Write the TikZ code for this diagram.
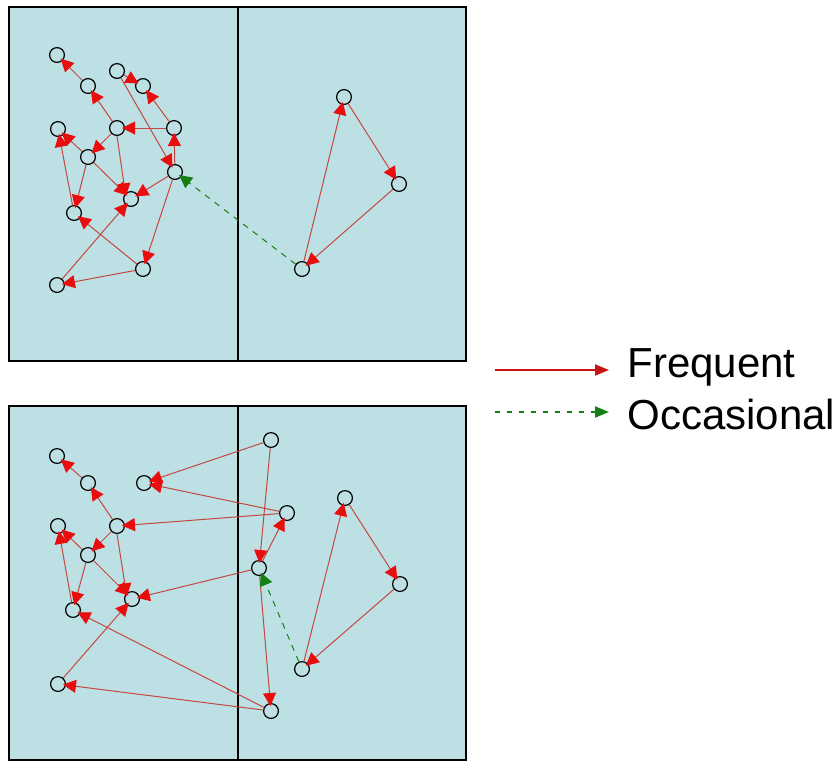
\documentclass[tikz,border=0pt]{standalone}
\usepackage{fontspec}
\setmainfont{Liberation Sans}
\usetikzlibrary{arrows.meta}
\definecolor{panelbg}{RGB}{189,224,228}
\definecolor{freqline}{RGB}{196,72,64}
\definecolor{freqhead}{RGB}{232,14,14}
\definecolor{occcol}{RGB}{20,128,20}
\definecolor{legred}{RGB}{200,20,20}
\begin{document}
\begin{tikzpicture}[x=0.5pt,y=-0.5pt,
  pt/.style={circle, draw=black, line width=0.6pt, minimum size=7.4pt, inner sep=0pt},
  freq/.style={draw=freqline, line width=0.5pt, shorten >=-1.5pt, -{Triangle[length=6.5pt,width=6.5pt,fill=freqhead,color=freqhead]}},
  occ/.style={draw=occcol, line width=0.5pt, shorten >=-1.5pt, dash pattern=on 3pt off 3pt, -{Triangle[length=6.5pt,width=6.5pt,fill=occcol,color=occcol]}},
  panel/.style={fill=panelbg, draw=black, line width=0.6pt},
  divider/.style={draw=black, line width=0.6pt},
  legfreq/.style={draw=legred, line width=1pt, -{Triangle[length=7pt,width=5.5pt,fill=legred,color=legred]}},
  legocc/.style={draw=occcol, line width=1pt, dash pattern=on 2.5pt off 3.5pt, -{Triangle[length=7pt,width=5.5pt,fill=occcol,color=occcol]}},
  legtext/.style={anchor=base west, inner sep=0pt, font=\fontsize{21}{25}\selectfont}
]
\useasboundingbox (0,0) rectangle (838,762);
% panels
\draw[panel] (9,7) rectangle (466,361);
\draw[divider] (238,7) -- (238,361);
\draw[panel] (9,406) rectangle (466,760);
\draw[divider] (238,406) -- (238,760);

% top panel nodes
\node[pt] (t1) at (57,55) {};
\node[pt] (t2) at (88,86) {};
\node[pt] (t3) at (117,71) {};
\node[pt] (t4) at (143,86) {};
\node[pt] (t5) at (58,129) {};
\node[pt] (t6) at (117,128) {};
\node[pt] (t7) at (174,128) {};
\node[pt] (t8) at (88,157) {};
\node[pt] (t9) at (175,172) {};
\node[pt] (t10) at (131,199) {};
\node[pt] (t11) at (74,213) {};
\node[pt] (t12) at (143,269) {};
\node[pt] (t13) at (57,285) {};
\node[pt] (tr1) at (344,97) {};
\node[pt] (tr2) at (399,184) {};
\node[pt] (tr3) at (302,269) {};

\draw[freq] (t2) -- (t1);
\draw[freq] (t6) -- (t2);
\draw[freq] (t3) -- (t4);
\draw[freq] (t7) -- (t4);
\draw[freq] (t7) -- (t6);
\draw[freq] (t9) -- (t7);
\draw[freq] (t6) -- (t8);
\draw[freq] (t8) -- (t5);
\draw[freq] (t11) -- (t5);
\draw[freq] (t8) -- (t11);
\draw[freq] (t8) -- (t10);
\draw[freq] (t6.south) -- (t10.north west);
\draw[freq] (t9) -- (t10);
\draw[freq] (t13) -- (t10);
\draw[freq] (t3) -- (t9);
\draw[freq] (t9) -- (t12);
\draw[freq] (t12) -- (t11);
\draw[freq] (t12) -- (t13);
\draw[freq] (tr3) -- (tr1);
\draw[freq] (tr1) -- (tr2);
\draw[freq] (tr2) -- (tr3);
\draw[occ] (tr3) -- (t9);

% bottom panel nodes
\node[pt] (b1) at (57,456) {};
\node[pt] (b2) at (88,483) {};
\node[pt] (b5) at (58,526) {};
\node[pt] (b6) at (117,526) {};
\node[pt] (b8) at (88,555) {};
\node[pt] (b10) at (132,599) {};
\node[pt] (b11) at (73,610) {};
\node[pt] (b13) at (58,684) {};
\node[pt] (c1) at (144,483) {};
\node[pt] (c2) at (271,440) {};
\node[pt] (c3) at (287,513) {};
\node[pt] (c4) at (259,568) {};
\node[pt] (c5) at (271,711) {};
\node[pt] (br1) at (345,498) {};
\node[pt] (br2) at (400,584) {};
\node[pt] (br3) at (302,669) {};

\draw[freq] (b2) -- (b1);
\draw[freq] (b6) -- (b2);
\draw[freq] (b6) -- (b8);
\draw[freq] (b8) -- (b5);
\draw[freq] (b11) -- (b5);
\draw[freq] (b8) -- (b11);
\draw[freq] (b8) -- (b10);
\draw[freq] (b6.south) -- (b10.north west);
\draw[freq] (b13) -- (b10);
\draw[freq] (c4) -- (b10);
\draw[freq] (c5) -- (b11);
\draw[freq] (c5) -- (b13);
\draw[freq] (c2) -- (c1);
\draw[freq] (c3) -- (c1);
\draw[freq] (c3) -- (b6);
\draw[freq] (c4) -- (c3);
\draw[freq] (c2) -- (c4);
\draw[freq] (c4) -- (c5);
\draw[freq] (br3) -- (br1);
\draw[freq] (br1) -- (br2);
\draw[freq] (br2) -- (br3);
\draw[occ] (br3) -- (c4);

% legend
\coordinate (fa) at (495,370);
\coordinate (fb) at (609,370);
\draw[legfreq] (fa) -- (fb);
\node[legtext] (ft) at (627,377) {Frequent};
\coordinate (oa) at (495,412);
\coordinate (ob) at (609,412);
\draw[legocc] (oa) -- (ob);
\node[legtext] (ot) at (627,429) {Occasional};
\end{tikzpicture}
\end{document}
